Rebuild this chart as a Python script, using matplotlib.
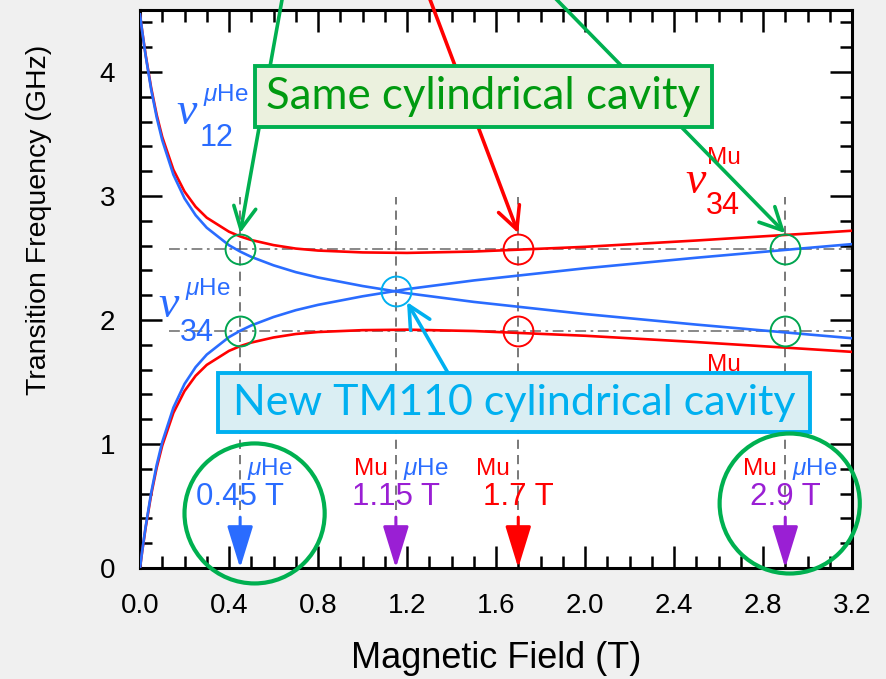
import matplotlib
matplotlib.use("Agg")
import matplotlib.pyplot as plt
from matplotlib.patches import Rectangle, Ellipse
from matplotlib.ticker import MultipleLocator

plt.rcParams['font.family'] = ['Liberation Sans', 'DejaVu Sans']
plt.rcParams['mathtext.fontset'] = 'custom'
plt.rcParams['mathtext.rm'] = 'Liberation Sans'
plt.rcParams['mathtext.it'] = 'Liberation Sans:italic'

# Magnetic field (T) and transition frequencies (GHz)
field = [0.0, 0.01, 0.025, 0.05, 0.075, 0.1, 0.15, 0.2, 0.25, 0.3, 0.4, 0.45,
         0.5, 0.6, 0.7, 0.8, 1.0, 1.2, 1.5, 2.0, 2.5, 3.0, 3.2]
mu_nu34 = [4.463, 4.328, 4.142, 3.874, 3.654, 3.476, 3.212, 3.036, 2.913, 2.825,
           2.712, 2.674, 2.645, 2.604, 2.576, 2.560, 2.545, 2.541, 2.552, 2.590,
           2.641, 2.697, 2.720]
mu_nu12 = [0.0, 0.135, 0.321, 0.589, 0.809, 0.987, 1.251, 1.427, 1.550, 1.638,
           1.751, 1.789, 1.818, 1.859, 1.887, 1.903, 1.918, 1.922, 1.911, 1.873,
           1.822, 1.766, 1.743]
muhe_nu12 = [4.465, 4.325, 4.135, 3.860, 3.634, 3.449, 3.172, 2.981, 2.845, 2.744,
             2.603, 2.552, 2.509, 2.441, 2.386, 2.343, 2.274, 2.216, 2.146, 2.048,
             1.963, 1.884, 1.853]
muhe_nu34 = [0.0, 0.140, 0.330, 0.605, 0.831, 1.016, 1.293, 1.484, 1.620, 1.721,
             1.862, 1.913, 1.956, 2.024, 2.079, 2.122, 2.191, 2.249, 2.319, 2.417,
             2.502, 2.581, 2.612]

# Operating fields
op_fields = [0.45, 1.15, 1.7, 2.9]
op_labels = ['0.45 T', '1.15 T', '1.7 T', '2.9 T']
op_colors = ['#2a6cff', '#9a1fd4', '#ff0000', '#9a1fd4']
op_has_mu = [False, True, True, True]
op_has_muhe = [True, True, False, True]

# Resonance frequencies (GHz)
res_hi = 2.57
res_lo = 1.91
crossing = (1.15, 2.23)

RED = '#ff0000'
BLUE = '#2a6cff'
GREEN = '#00b050'
GREEN_TXT = '#009a10'
CYAN = '#00b0f0'
GRAY = '#7f7f7f'

fig = plt.figure(figsize=(8.87, 6.79), dpi=100, facecolor='#f0f0f0')
ax = fig.add_axes([0.15784, 0.16348, 0.80271, 0.82180])
ax.set_facecolor('white')
ax.set_xlim(0, 3.2)
ax.set_ylim(0, 4.5)

# Breit-Rabi curves
ax.plot(field, mu_nu34, color=RED, lw=1.9, zorder=3)
ax.plot(field, mu_nu12, color=RED, lw=1.9, zorder=3)
ax.plot(field, muhe_nu12, color=BLUE, lw=1.9, zorder=3.1)
ax.plot(field, muhe_nu34, color=BLUE, lw=1.9, zorder=3.1)

# Resonance frequency guides
for f in (res_hi, res_lo):
    ax.plot([0.13, 3.2], [f, f], color=GRAY, lw=1.3,
            ls=(0, (6, 2.5, 1.5, 2.5)), zorder=2)
for b in op_fields:
    ax.plot([b, b], [0.47, 2.99], color='#555555', lw=1.1,
            ls=(0, (6, 4)), zorder=2)

# Resonance circles
circ_kw = dict(marker='o', ms=21.5, mfc='none', mew=1.4, ls='none', zorder=4)
for b, c in zip(op_fields, ['#00a550', None, RED, '#00a550']):
    if c is None:
        continue
    ax.plot([b, b], [res_hi, res_lo], mec=c, **circ_kw)
ax.plot([crossing[0]], [crossing[1]], mec=CYAN, **circ_kw)

# Field arrows and labels at the bottom
for b, lab, c, hm, hh in zip(op_fields, op_labels, op_colors, op_has_mu, op_has_muhe):
    ax.annotate('', xy=(b, 0.0), xytext=(b, 0.41),
                arrowprops=dict(arrowstyle='-|>,head_length=2.6,head_width=0.8',
                                mutation_scale=10, lw=2.2, color=c,
                                shrinkA=0, shrinkB=0), zorder=5)
    ax.text(b, 0.573, lab, color=c, fontsize=22.5, ha='center', va='center', zorder=5)
    if hm:
        ax.text(b - 0.113, 0.80, 'Mu', color=RED, fontsize=17.5, ha='center',
                va='center', zorder=5)
    if hh:
        ax.text(b + 0.133, 0.80, r'$\mu$He', color=BLUE, fontsize=17.5,
                ha='center', va='center', zorder=5)

# Curve labels
nu_kw = dict(family='Liberation Serif', style='italic', fontsize=33,
             ha='center', va='center')
ax.text(0.211, 3.67, 'ν', color=BLUE, **nu_kw)
ax.text(0.384, 3.815, r'$\mu$He', color=BLUE, fontsize=17.5, ha='center', va='center')
ax.text(0.342, 3.468, '12', color=BLUE, fontsize=22, ha='center', va='center')

ax.text(0.130, 2.113, 'ν', color=BLUE, **nu_kw)
ax.text(0.306, 2.25, r'$\mu$He', color=BLUE, fontsize=17.5, ha='center', va='center')
ax.text(0.256, 1.895, '34', color=BLUE, fontsize=22, ha='center', va='center')

ax.text(2.496, 3.113, 'ν', color=RED, **nu_kw)
ax.text(2.626, 3.306, 'Mu', color=RED, fontsize=17.5, ha='center', va='center')
ax.text(2.621, 2.919, '34', color=RED, fontsize=22, ha='center', va='center')

ax.text(2.626, 1.64, 'Mu', color=RED, fontsize=17.5, ha='center', va='center', zorder=3)

# Pointer arrows
open_arrow = dict(arrowstyle='->,head_length=1.6,head_width=0.8',
                  mutation_scale=10, lw=2.6, shrinkA=0, shrinkB=0)
ax.annotate('', xy=(0.45, 2.70), xytext=(0.670, 4.90),
            arrowprops=dict(color=GREEN, **open_arrow), zorder=5,
            annotation_clip=False)
ax.annotate('', xy=(1.7, 2.70), xytext=(1.237, 4.90),
            arrowprops=dict(color=RED, **open_arrow), zorder=5,
            annotation_clip=False)
ax.annotate('', xy=(2.9, 2.70), xytext=(1.70, 4.90),
            arrowprops=dict(color=GREEN, **open_arrow), zorder=5,
            annotation_clip=False)
ax.annotate('', xy=(1.20, 2.145), xytext=(1.44, 1.40),
            arrowprops=dict(color=CYAN, **open_arrow), zorder=5)

# Callout boxes
ax.add_patch(Rectangle((0.517, 3.556), 2.055, 0.492, facecolor='#ebf1de',
                       edgecolor=GREEN, lw=2.8, zorder=6))
ax.text(1.544, 3.80, 'Same cylindrical cavity', color=GREEN_TXT, fontsize=31.5,
        family='Lato', ha='center', va='center', zorder=7)
ax.add_patch(Rectangle((0.351, 1.097), 2.662, 0.476, facecolor='#daeef3',
                       edgecolor=CYAN, lw=2.8, zorder=6))
ax.text(1.68, 1.33, 'New TM110 cylindrical cavity', color=CYAN, fontsize=31,
        family='Lato', ha='center', va='center', zorder=7)

# Highlight rings
for cx, cy in ((0.515, 0.44), (2.92, 0.52)):
    ax.add_patch(Ellipse((cx, cy), 0.63, 1.129, facecolor='none', edgecolor=GREEN,
                         lw=3.0, zorder=8, clip_on=False))

# Axes styling
ax.xaxis.set_minor_locator(MultipleLocator(0.1))
ax.yaxis.set_minor_locator(MultipleLocator(0.2))
ax.set_xticks([0.0, 0.4, 0.8, 1.2, 1.6, 2.0, 2.4, 2.8, 3.2])
ax.set_xticklabels(['0.0', '0.4', '0.8', '1.2', '1.6', '2.0', '2.4', '2.8', '3.2'])
ax.set_yticks([0, 1, 2, 3, 4])
ax.set_yticklabels(['0', '1', '2', '3', '4'])
ax.tick_params(which='both', direction='in', top=True, right=True,
               width=1.8, color='black', labelsize=20, pad=18)
ax.tick_params(which='major', length=16)
ax.tick_params(which='minor', length=8.5)
for s in ax.spines.values():
    s.set_linewidth(2.2)

ax.set_xlabel('Magnetic Field (T)', fontsize=26)
ax.set_ylabel('Transition Frequency (GHz)', fontsize=20.5)
ax.xaxis.set_label_coords(0.5, -0.13)
ax.yaxis.set_label_coords(-0.124, 0.624)

fig.savefig('out.png', dpi=100, facecolor=fig.get_facecolor())
